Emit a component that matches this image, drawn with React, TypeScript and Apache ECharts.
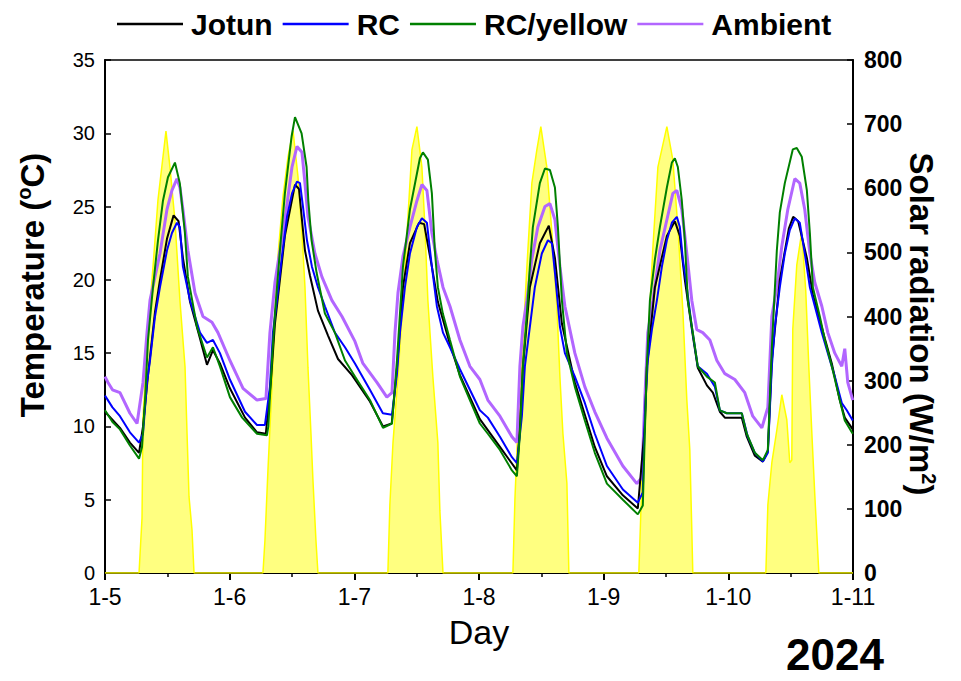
import React, { useEffect, useRef } from "react";
import * as echarts from "echarts";

// x = day of January 2024 (fractional), temperature in °C
const dayTicks = [5, 6, 7, 8, 9, 10, 11];

const jotun: number[][] = [
  [5.0, 11.0], [5.12, 9.9], [5.2, 8.9], [5.273, 8.2],
  [5.305, 10.0], [5.345, 13.5], [5.401, 17.8], [5.441, 20.0], [5.497, 22.8], [5.55, 24.4], [5.59, 24.0], [5.625, 21.5], [5.682, 18.5], [5.762, 16.0], [5.818, 14.2], [5.866, 15.2], [5.922, 14.3], [6.002, 12.6], [6.123, 10.6], [6.219, 9.6], [6.29, 9.5],
  [6.33, 13.0], [6.363, 17.0], [6.443, 23.0], [6.524, 26.5], [6.556, 26.2], [6.604, 22.0], [6.644, 20.3], [6.708, 17.9], [6.789, 16.2], [6.869, 14.6], [6.981, 13.5], [7.125, 11.7], [7.23, 10.0], [7.3, 10.2],
  [7.342, 14.0], [7.39, 19.5], [7.446, 22.5], [7.52, 23.9], [7.56, 23.8], [7.622, 20.9], [7.67, 18.5], [7.767, 15.6], [7.847, 13.5], [7.927, 12.0], [8.007, 10.5], [8.168, 8.6], [8.304, 7.0],
  [8.328, 9.8], [8.352, 14.0], [8.408, 19.5], [8.488, 22.5], [8.56, 23.7], [8.609, 21.5], [8.665, 17.0], [8.769, 13.0], [8.849, 10.8], [8.929, 8.6], [9.026, 6.6], [9.154, 5.3], [9.274, 4.4],
  [9.33, 10.0], [9.346, 14.0], [9.411, 19.5], [9.507, 23.0], [9.571, 24.0], [9.611, 23.0], [9.651, 20.0], [9.715, 16.2], [9.755, 14.0], [9.828, 12.8], [9.876, 12.3], [9.932, 11.0], [9.972, 10.6],
  [10.108, 10.6], [10.148, 9.3], [10.213, 8.0], [10.277, 7.6], [10.317, 8.3], [10.349, 14.5], [10.413, 20.0], [10.485, 23.5], [10.52, 24.3], [10.56, 24.0], [10.63, 21.5], [10.678, 19.0], [10.774, 16.0], [10.83, 14.3], [10.894, 11.8], [10.934, 10.6], [10.998, 9.8],
];

const rc: number[][] = [
  [5.0, 12.1], [5.06, 11.3], [5.12, 10.7], [5.2, 9.6], [5.273, 8.9],
  [5.305, 9.5], [5.337, 13.0], [5.361, 14.5], [5.401, 17.5], [5.441, 19.5], [5.497, 22.0], [5.537, 23.2], [5.577, 23.9], [5.601, 23.6], [5.625, 20.9], [5.682, 18.6], [5.762, 16.4], [5.818, 15.7], [5.866, 15.9], [5.922, 15.0], [6.002, 13.2], [6.123, 11.0], [6.219, 10.1], [6.283, 10.1],
  [6.323, 12.7], [6.347, 16.4], [6.379, 18.6], [6.419, 21.6], [6.46, 24.3], [6.5, 25.9], [6.54, 26.7], [6.564, 26.6], [6.588, 25.0], [6.62, 22.7], [6.66, 20.9], [6.708, 19.5], [6.764, 18.2], [6.844, 16.4], [6.925, 15.4], [7.005, 14.3], [7.125, 12.5], [7.229, 10.9], [7.302, 10.8],
  [7.342, 13.6], [7.366, 16.4], [7.406, 19.5], [7.446, 21.8], [7.502, 23.6], [7.542, 24.2], [7.582, 23.9], [7.622, 20.9], [7.662, 18.2], [7.711, 16.4], [7.767, 15.4], [7.847, 13.9], [7.927, 12.5], [8.007, 11.1], [8.071, 10.6], [8.168, 9.3], [8.264, 7.9], [8.304, 7.5],
  [8.344, 10.7], [8.368, 14.1], [8.408, 16.8], [8.448, 19.5], [8.504, 21.8], [8.553, 22.7], [8.585, 22.5], [8.609, 20.5], [8.649, 16.8], [8.689, 15.0], [8.769, 13.4], [8.849, 11.6], [8.929, 9.5], [9.026, 7.3], [9.154, 5.7], [9.274, 4.8],
  [9.314, 5.5], [9.33, 10.7], [9.354, 14.5], [9.387, 16.6], [9.427, 18.6], [9.467, 20.9], [9.507, 22.7], [9.547, 23.9], [9.587, 24.3], [9.611, 23.6], [9.635, 21.4], [9.667, 19.5], [9.707, 16.8], [9.755, 14.1], [9.828, 13.6], [9.892, 12.7], [9.932, 11.1], [9.988, 10.9],
  [10.108, 10.9], [10.156, 9.3], [10.213, 8.2], [10.277, 7.6], [10.317, 8.2], [10.349, 14.1], [10.373, 16.8], [10.413, 19.5], [10.453, 21.8], [10.493, 23.4], [10.533, 24.2], [10.573, 23.9], [10.613, 21.8], [10.654, 19.5], [10.694, 18.2], [10.75, 16.4], [10.798, 15.0], [10.854, 13.4], [10.91, 11.6], [10.95, 11.1], [10.998, 10.4],
];

const rcYellow: number[][] = [
  [5.0, 11.1], [5.06, 10.3], [5.12, 9.8], [5.2, 8.7], [5.273, 7.8],
  [5.297, 8.6], [5.321, 11.8], [5.345, 15.9], [5.385, 19.5], [5.425, 22.7], [5.465, 25.4], [5.505, 27.0], [5.561, 28.0], [5.6, 26.6], [5.641, 23.2], [5.665, 20.2], [5.738, 16.8], [5.818, 14.7], [5.866, 15.4], [5.922, 14.1], [6.002, 12.0], [6.1, 10.6], [6.219, 9.5], [6.299, 9.4],
  [6.31, 10.0], [6.339, 14.5], [6.363, 17.7], [6.403, 22.0], [6.443, 25.9], [6.497, 29.8], [6.524, 31.1], [6.577, 30.0], [6.617, 27.7], [6.631, 25.4], [6.657, 22.7], [6.697, 20.5], [6.764, 17.7], [6.844, 16.4], [6.925, 14.5], [7.005, 13.4], [7.125, 11.8], [7.23, 9.9], [7.302, 10.2],
  [7.342, 14.5], [7.366, 17.7], [7.39, 20.9], [7.446, 24.8], [7.526, 28.3], [7.55, 28.7], [7.59, 28.2], [7.622, 25.9], [7.646, 22.0], [7.67, 19.5], [7.71, 17.7], [7.767, 15.9], [7.847, 13.4], [7.927, 11.8], [8.007, 10.2], [8.071, 9.5], [8.168, 8.4], [8.264, 7.0], [8.304, 6.6],
  [8.328, 9.5], [8.352, 14.1], [8.384, 17.7], [8.408, 20.9], [8.432, 23.6], [8.488, 26.6], [8.529, 27.6], [8.569, 27.5], [8.609, 26.3], [8.633, 23.6], [8.665, 18.6], [8.705, 15.0], [8.769, 12.7], [8.849, 10.4], [8.929, 8.2], [9.026, 6.1], [9.154, 5.0], [9.274, 4.0],
  [9.314, 4.6], [9.33, 9.5], [9.346, 14.1], [9.371, 18.6], [9.411, 21.4], [9.451, 23.6], [9.507, 26.3], [9.547, 28.0], [9.571, 28.3], [9.595, 27.7], [9.627, 25.4], [9.651, 22.7], [9.675, 18.6], [9.715, 16.4], [9.755, 14.1], [9.828, 13.4], [9.892, 13.0], [9.932, 11.1], [9.988, 10.9],
  [10.108, 10.9], [10.148, 9.5], [10.213, 8.2], [10.277, 7.7], [10.317, 8.4], [10.349, 15.4], [10.389, 22.0], [10.413, 24.6], [10.453, 26.6], [10.517, 28.9], [10.549, 29.0], [10.589, 28.4], [10.63, 26.1], [10.654, 23.2], [10.678, 19.5], [10.734, 17.5], [10.774, 15.9], [10.83, 14.1], [10.894, 11.8], [10.934, 10.4], [10.998, 9.5],
];

const ambient: number[][] = [
  [5.0, 13.4], [5.024, 13.0], [5.06, 12.5], [5.12, 12.3], [5.2, 10.9], [5.257, 10.2],
  [5.305, 13.0], [5.337, 16.4], [5.361, 18.6], [5.401, 20.2], [5.441, 21.8], [5.497, 24.8], [5.537, 26.1], [5.577, 26.9], [5.601, 26.3], [5.625, 24.8], [5.665, 22.0], [5.722, 19.1], [5.786, 17.5], [5.858, 17.1], [5.906, 16.4], [6.002, 14.5], [6.107, 12.6], [6.219, 11.8], [6.291, 11.9],
  [6.323, 16.4], [6.363, 19.8], [6.403, 22.0], [6.443, 24.1], [6.5, 27.7], [6.54, 29.1], [6.58, 28.7], [6.604, 26.6], [6.628, 24.3], [6.684, 21.8], [6.74, 20.2], [6.82, 18.6], [6.901, 17.5], [7.005, 15.8], [7.069, 14.3], [7.181, 13.0], [7.261, 12.0], [7.302, 12.3],
  [7.326, 16.4], [7.35, 19.1], [7.39, 21.6], [7.446, 23.6], [7.502, 25.4], [7.542, 26.5], [7.582, 26.1], [7.622, 23.2], [7.662, 21.4], [7.711, 19.5], [7.767, 18.2], [7.847, 15.9], [7.927, 14.1], [8.007, 13.2], [8.071, 11.8], [8.168, 10.7], [8.264, 9.3], [8.304, 8.9],
  [8.328, 14.1], [8.352, 16.8], [8.384, 18.6], [8.424, 21.4], [8.472, 23.6], [8.529, 25.0], [8.569, 25.2], [8.609, 24.1], [8.649, 20.9], [8.689, 18.2], [8.769, 15.0], [8.849, 12.7], [8.929, 11.0], [9.026, 9.2], [9.154, 7.3], [9.266, 6.1],
  [9.306, 6.5], [9.33, 11.8], [9.354, 16.4], [9.395, 18.6], [9.451, 22.0], [9.507, 24.1], [9.555, 25.9], [9.587, 26.1], [9.627, 24.8], [9.667, 21.8], [9.707, 18.6], [9.747, 16.6], [9.795, 16.4], [9.852, 15.9], [9.908, 14.5], [9.972, 13.6], [10.052, 13.2], [10.132, 12.3], [10.196, 10.7], [10.269, 9.9], [10.317, 11.3],
  [10.349, 17.5], [10.389, 19.5], [10.429, 22.3], [10.477, 24.8], [10.533, 26.9], [10.573, 26.6], [10.613, 24.8], [10.654, 21.8], [10.694, 19.8], [10.75, 18.2], [10.798, 16.4], [10.854, 15.0], [10.91, 14.1], [10.934, 15.3], [10.958, 13.0], [10.998, 11.8],
];

// Solar radiation, W/m²
const solar: number[][] = [
  [5.0, 0],
  [5.273, 0], [5.297, 86], [5.305, 243], [5.345, 379], [5.385, 477], [5.425, 582], [5.489, 689], [5.521, 633], [5.561, 550], [5.601, 425], [5.642, 321], [5.658, 218], [5.674, 119], [5.698, 67], [5.714, 0],
  [6.267, 0], [6.283, 51], [6.307, 160], [6.339, 290], [6.363, 405], [6.387, 493], [6.427, 586], [6.468, 649], [6.508, 690], [6.548, 618], [6.58, 530], [6.604, 446], [6.628, 321], [6.652, 218], [6.668, 145], [6.692, 51], [6.708, 0],
  [7.269, 0], [7.285, 106], [7.31, 203], [7.35, 306], [7.39, 425], [7.43, 555], [7.462, 660], [7.502, 696], [7.542, 633], [7.566, 540], [7.59, 425], [7.63, 306], [7.67, 203], [7.686, 98], [7.711, 0],
  [8.272, 0], [8.288, 114], [8.312, 228], [8.352, 359], [8.384, 477], [8.424, 608], [8.464, 660], [8.496, 696], [8.544, 633], [8.585, 530], [8.625, 415], [8.649, 306], [8.673, 218], [8.705, 140], [8.721, 0],
  [9.282, 0], [9.306, 140], [9.33, 243], [9.354, 352], [9.395, 508], [9.435, 633], [9.507, 696], [9.555, 644], [9.595, 540], [9.635, 410], [9.667, 270], [9.691, 192], [9.707, 67], [9.715, 0],
  [10.301, 0], [10.317, 106], [10.349, 172], [10.389, 223], [10.429, 278], [10.469, 239], [10.493, 172], [10.509, 176], [10.517, 380], [10.549, 480], [10.589, 532], [10.621, 440], [10.646, 320], [10.67, 218], [10.694, 120], [10.726, 0],
  [11.0, 0],
];

const tempTicks = { min: 0, max: 35, interval: 5 };
const solarTicks = { min: 0, max: 800, interval: 100 };
const seriesNames = ["Jotun", "RC", "RC/yellow", "Ambient"];

export default function App() {
  const ref = useRef<HTMLDivElement>(null);
  useEffect(() => {
    if (!ref.current) return;
    const chart = echarts.init(ref.current, undefined, { renderer: "svg" });
    const font = "Arial, 'Liberation Sans', sans-serif";
    const lineSeries = (name: string, data: number[][], color: string, width: number, z: number) => ({
      name,
      type: "line",
      data,
      yAxisIndex: 0,
      symbol: "none",
      lineStyle: { color, width },
      itemStyle: { color },
      z,
    });
    chart.setOption({
      animation: false,
      backgroundColor: "#fff",
      textStyle: { fontFamily: font },
      grid: { left: 105, right: 108, top: 60, bottom: 108, show: true, borderColor: "#000", borderWidth: 1.5, backgroundColor: "transparent" },
      legend: {
        data: seriesNames,
        top: 4,
        left: 112,
        icon: "rect",
        itemWidth: 66,
        itemHeight: 2.5,
        itemGap: 10,
        textStyle: { fontSize: 30, fontWeight: "bold", color: "#000", fontFamily: font, padding: [0, 0, 0, 3] },
      },
      xAxis: {
        type: "value",
        min: dayTicks[0],
        max: dayTicks[dayTicks.length - 1],
        interval: 1,
        axisLine: { lineStyle: { color: "#000", width: 2 } },
        axisTick: { inside: false, length: 7, lineStyle: { color: "#000", width: 2 } },
        minorTick: { show: true, splitNumber: 2, length: 4, lineStyle: { color: "#000", width: 1.5 } },
        splitLine: { show: false },
        axisLabel: { formatter: (v: number) => "1-" + v, fontSize: 23, color: "#000", margin: 12, fontFamily: font },
        name: "Day",
        nameLocation: "middle",
        nameGap: 42,
        nameTextStyle: { fontSize: 34, color: "#000", fontFamily: font },
      },
      yAxis: [
        {
          type: "value",
          position: "left",
          ...tempTicks,
          axisLine: { show: true, lineStyle: { color: "#000", width: 2 } },
          axisTick: { show: true, inside: true, length: 6, lineStyle: { color: "#000", width: 1.5 } },
          splitLine: { show: false },
          axisLabel: { fontSize: 20, color: "#000", margin: 10, fontFamily: font },
        },
        {
          type: "value",
          position: "right",
          ...solarTicks,
          axisLine: { show: true, lineStyle: { color: "#000", width: 2 } },
          axisTick: { show: true, inside: true, length: 6, lineStyle: { color: "#000", width: 1.5 } },
          splitLine: { show: false },
          axisLabel: { fontSize: 23, fontWeight: "bold", color: "#000", margin: 11, fontFamily: font },
        },
      ],
      graphic: [
        {
          type: "text",
          x: 32,
          y: 285,
          rotation: Math.PI / 2,
          style: {
            text: "{a|Temperature (}{s|o}{a|C)}",
            textAlign: "center",
            textVerticalAlign: "middle",
            rich: {
              a: { fontSize: 33, fontWeight: "bold", fill: "#000", fontFamily: font, lineHeight: 36 },
              s: { fontSize: 20, fontWeight: "bold", fill: "#000", fontFamily: font, verticalAlign: "top", lineHeight: 36 },
            },
          },
        },
        {
          type: "text",
          x: 921,
          y: 324,
          rotation: -Math.PI / 2,
          style: {
            text: "{a|Solar radiation (W/m}{s|2}{a|)}",
            textAlign: "center",
            textVerticalAlign: "middle",
            rich: {
              a: { fontSize: 33, fontWeight: "bold", fill: "#000", fontFamily: font, lineHeight: 36 },
              s: { fontSize: 20, fontWeight: "bold", fill: "#000", fontFamily: font, verticalAlign: "top", lineHeight: 36 },
            },
          },
        },
        {
          type: "text",
          x: 835,
          y: 654,
          style: { text: "2024", fontSize: 44, fontWeight: "bold", fill: "#000", fontFamily: font, textAlign: "center", textVerticalAlign: "middle" },
        },
      ],
      series: [
        {
          name: "Solar",
          type: "line",
          data: solar,
          yAxisIndex: 1,
          symbol: "none",
          lineStyle: { color: "#ffff00", width: 1.5 },
          areaStyle: { color: "#ffff80", opacity: 1 },
          z: 1,
        },
        lineSeries("Ambient", ambient, "#b266ff", 3, 2),
        lineSeries("Jotun", jotun, "#000000", 2, 3),
        lineSeries("RC", rc, "#0000ff", 2, 4),
        lineSeries("RC/yellow", rcYellow, "#008000", 2, 5),
      ],
    });
    return () => chart.dispose();
  }, []);
  return <div ref={ref} style={{ position: "fixed", left: 0, top: 0, width: 961, height: 681 }} />;
}
